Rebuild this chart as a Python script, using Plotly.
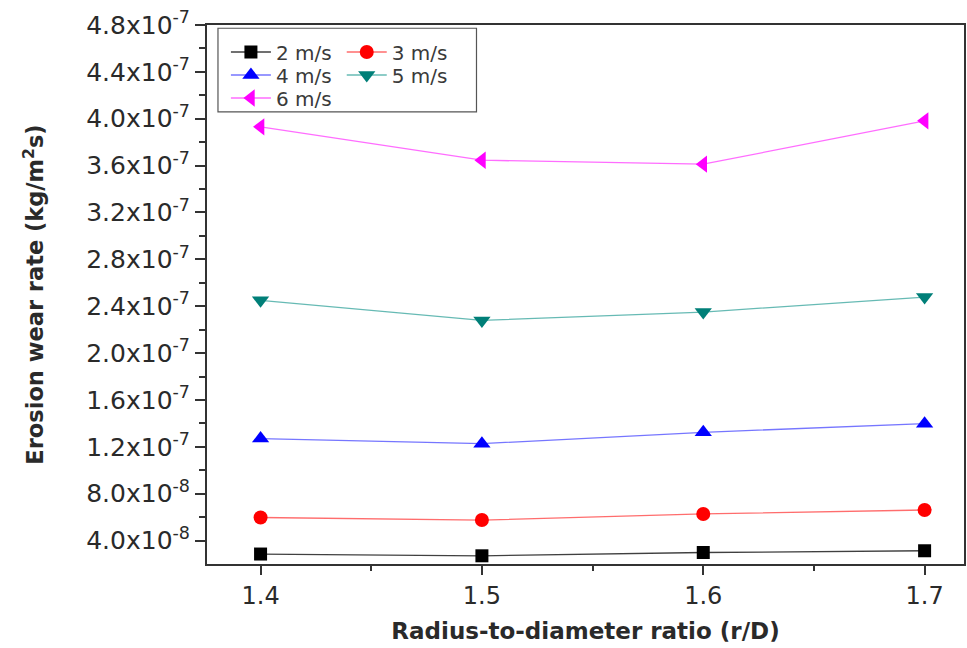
import plotly.graph_objects as go

# ---------------- data ----------------
ratio = [1.4, 1.5, 1.6, 1.7]
v2 = [2.85e-8, 2.70e-8, 2.98e-8, 3.13e-8]
v3 = [5.97e-8, 5.75e-8, 6.27e-8, 6.61e-8]
v4 = [1.270e-7, 1.227e-7, 1.324e-7, 1.398e-7]
v5 = [2.450e-7, 2.279e-7, 2.350e-7, 2.478e-7]
v6 = [3.931e-7, 3.646e-7, 3.612e-7, 3.982e-7]

series_names = ["2 m/s", "3 m/s", "4 m/s", "5 m/s", "6 m/s"]

y_tickvals = [4.0e-8, 8.0e-8, 1.2e-7, 1.6e-7, 2.0e-7, 2.4e-7, 2.8e-7,
              3.2e-7, 3.6e-7, 4.0e-7, 4.4e-7, 4.8e-7]
y_ticktext = ["4.0x10<sup>-8</sup>", "8.0x10<sup>-8</sup>", "1.2x10<sup>-7</sup>",
              "1.6x10<sup>-7</sup>", "2.0x10<sup>-7</sup>", "2.4x10<sup>-7</sup>",
              "2.8x10<sup>-7</sup>", "3.2x10<sup>-7</sup>", "3.6x10<sup>-7</sup>",
              "4.0x10<sup>-7</sup>", "4.4x10<sup>-7</sup>", "4.8x10<sup>-7</sup>"]
y_minor = [6.0e-8, 1.0e-7, 1.4e-7, 1.8e-7, 2.2e-7, 2.6e-7,
           3.0e-7, 3.4e-7, 3.8e-7, 4.2e-7, 4.6e-7]
x_tickvals = [1.4, 1.5, 1.6, 1.7]
x_ticktext = ["1.4", "1.5", "1.6", "1.7"]
x_minor = [1.45, 1.55, 1.65]

# ---------------- styling ----------------
# legend slot (column x in paper coords, row y in paper coords)
col_x = [0.025, 0.178]
row_y = [0.9499, 0.9072, 0.8646]
styles = [
    dict(symbol="square", color="#000000", line="rgba(0,0,0,0.75)", size=13, lg="legend", lx=col_x[0], ly=row_y[0]),
    dict(symbol="circle", color="#ff0000", line="rgba(255,60,60,0.75)", size=14, lg="legend2", lx=col_x[1], ly=row_y[0]),
    dict(symbol="triangle-up", color="#0000ff", line="rgba(60,60,255,0.7)", size=15, lg="legend3", lx=col_x[0], ly=row_y[1]),
    dict(symbol="triangle-down", color="#007f78", line="rgba(0,140,130,0.6)", size=15, lg="legend4", lx=col_x[1], ly=row_y[1]),
    dict(symbol="triangle-left", color="#ff00ff", line="rgba(255,60,255,0.75)", size=15, lg="legend5", lx=col_x[0], ly=row_y[2]),
]
values = [v2, v3, v4, v5, v6]

fig = go.Figure()
for name, vals, st in zip(series_names, values, styles):
    fig.add_trace(go.Scatter(
        x=ratio, y=vals, name=name, mode="lines+markers",
        line=dict(color=st["line"], width=1.3),
        marker=dict(symbol=st["symbol"], color=st["color"], size=st["size"], line=dict(width=0)),
        legend=st["lg"], showlegend=True,
    ))

font_main = "DejaVu Sans, Liberation Sans, Arial, sans-serif"
axis_col = "#333333"
txt_col = "#2a2a2a"

legend_layout = {}
for st in styles:
    legend_layout[st["lg"]] = dict(
        x=st["lx"], y=st["ly"], xanchor="left", yanchor="middle",
        bgcolor="rgba(0,0,0,0)", borderwidth=0, visible=True,
        font=dict(size=20, color="#3a3a3a", family=font_main), itemwidth=40,
    )

fig.update_layout(
    width=967, height=648,
    margin=dict(l=207, r=1, t=25, b=84),
    paper_bgcolor="white", plot_bgcolor="white",
    showlegend=True,
    font=dict(family=font_main, color=txt_col),
    xaxis=dict(
        range=[1.3758, 1.7178],
        tickvals=x_tickvals, ticktext=x_ticktext,
        ticks="outside", ticklen=9, tickwidth=1.5, tickcolor=axis_col,
        showline=True, linecolor=axis_col, linewidth=2, mirror=True,
        showgrid=False, zeroline=False,
        tickfont=dict(size=24, color=txt_col),
        minor=dict(tickvals=x_minor, ticks="outside", ticklen=5,
                   tickwidth=1.5, tickcolor=axis_col),
        title=dict(text="<b>Radius-to-diameter ratio (r/D)</b>",
                   font=dict(size=23, color=txt_col), standoff=14),
    ),
    yaxis=dict(
        range=[2.0e-8, 4.8e-7],
        tickvals=y_tickvals, ticktext=y_ticktext,
        ticks="outside", ticklen=10, tickwidth=1.5, tickcolor=axis_col,
        showline=True, linecolor=axis_col, linewidth=2, mirror=True,
        showgrid=False, zeroline=False,
        tickfont=dict(size=25, color=txt_col),
        minor=dict(tickvals=y_minor, ticks="outside", ticklen=6,
                   tickwidth=1.5, tickcolor=axis_col),
        title=dict(text="<b>Erosion wear rate (kg/m<sup>2</sup>s)</b>",
                   font=dict(size=22.5, color=txt_col), standoff=36),
    ),
    shapes=[dict(type="rect", xref="paper", yref="paper",
                 x0=0.0145, x1=0.356, y0=0.839, y1=0.994,
                 line=dict(color="#555555", width=1.2), fillcolor="rgba(0,0,0,0)")],
    **legend_layout,
)

fig.write_html("out.html")
